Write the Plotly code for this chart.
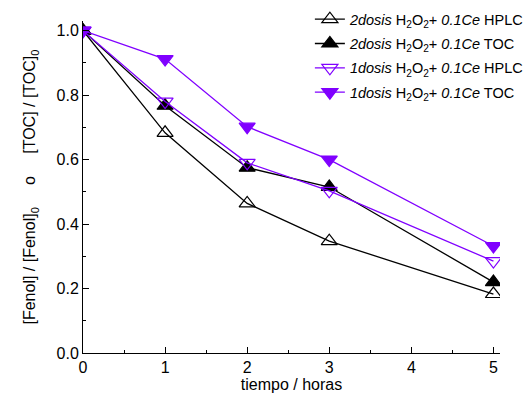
import plotly.graph_objects as go

tiempo = [0, 1, 2, 3, 5]
dos2_hplc = [1.0, 0.683, 0.464, 0.347, 0.183]
dos2_toc = [1.0, 0.767, 0.575, 0.515, 0.22]
dos1_hplc = [1.0, 0.78, 0.59, 0.503, 0.285]
dos1_toc = [1.0, 0.912, 0.702, 0.60, 0.332]

names = [
    "<i>2dosis</i> H<sub>2</sub>O<sub>2</sub>+ <i>0.1Ce</i> HPLC",
    "<i>2dosis</i> H<sub>2</sub>O<sub>2</sub>+ <i>0.1Ce</i> TOC",
    "<i>1dosis</i> H<sub>2</sub>O<sub>2</sub>+ <i>0.1Ce</i> HPLC",
    "<i>1dosis</i> H<sub>2</sub>O<sub>2</sub>+ <i>0.1Ce</i> TOC",
]
black = "#000000"
purple = "#8000ff"
series = [
    (dos2_hplc, black, "triangle-up-open"),
    (dos2_toc, black, "triangle-up"),
    (dos1_hplc, purple, "triangle-down-open"),
    (dos1_toc, purple, "triangle-down"),
]

fig = go.Figure()
for i, ((vals, col, sym), nm) in enumerate(zip(series, names)):
    fig.add_trace(go.Scatter(
        x=tiempo, y=vals, name=nm, mode="lines+markers", legendgroup=f"g{i}",
        line=dict(color=col, width=1.3),
        marker=dict(symbol=sym, size=14, color=col, line=dict(color=col, width=1.2)),
    ))

font = "Liberation Sans, Arial, sans-serif"
fig.update_layout(
    width=527, height=402,
    margin=dict(l=83, r=27, t=21, b=49, autoexpand=False),
    plot_bgcolor="white", paper_bgcolor="white",
    font=dict(family=font, size=16, color="black"),
    showlegend=True,
    legend=dict(x=0.588, y=0.992, xref="container", yref="container",
                xanchor="left", yanchor="top",
                bgcolor="rgba(0,0,0,0)", font=dict(size=14.5), tracegroupgap=2.5,
                itemwidth=30),
    xaxis=dict(range=[0, 5.08], tickvals=[0, 1, 2, 3, 4, 5], showgrid=False,
               zeroline=False, showline=True, linecolor="black", linewidth=1,
               ticks="inside", ticklen=6, tickcolor="black",
               minor=dict(dtick=0.5, ticks="inside", ticklen=3, tickcolor="black", showgrid=False),
               title=dict(text="tiempo / horas", font=dict(size=16), standoff=2)),
    yaxis=dict(range=[0, 1.03], tickvals=[0, 0.2, 0.4, 0.6, 0.8, 1.0], tickformat=".1f",
               showgrid=False, zeroline=False, showline=True, linecolor="black", linewidth=1,
               ticks="inside", ticklen=6, tickcolor="black",
               minor=dict(dtick=0.1, ticks="inside", ticklen=3, tickcolor="black", showgrid=False),
               title=dict(text="[Fenol] / [Fenol]<sub>0</sub>     o     [TOC] / [TOC]<sub>0</sub>",
                          font=dict(size=16), standoff=16)),
)
fig.write_html("out.html")
